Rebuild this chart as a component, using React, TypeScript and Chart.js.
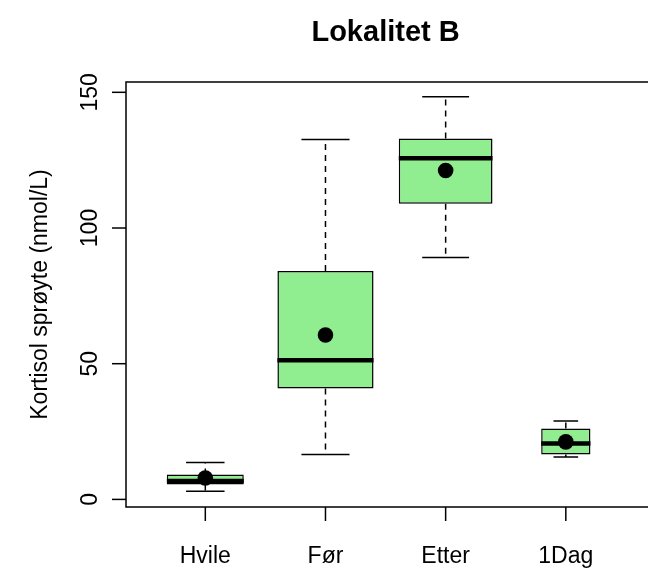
import React, { useEffect, useRef } from "react";
import { Chart, registerables } from "chart.js";
Chart.register(...registerables);

const categories = ["Hvile", "Før", "Etter", "1Dag"];
const positions = [1, 2, 3, 4];
const whiskerLow = [3.0, 16.5, 89.1, 15.6];
const q1 = [5.5, 40.9, 108.9, 16.5];
const medians = [6.8, 51.3, 125.7, 20.6];
const q3 = [9.2, 84.2, 133.0, 26.1];
const whiskerHigh = [13.6, 132.6, 148.4, 28.9];
const means = [7.9, 60.6, 121.2, 21.2];
const yTicks = [0, 50, 100, 150];
const titleText = "Lokalitet B";
const yTitleText = "Kortisol sprøyte (nmol/L)";

// relative box widths (varwidth style)
const boxWidths = [0.64, 0.8, 0.78, 0.41];

const FONT = '"Liberation Sans", Arial, Helvetica, sans-serif';

export default function App() {
  const ref = useRef<HTMLCanvasElement>(null);

  useEffect(() => {
    const canvas = ref.current!;
    const boxDatasets: any[] = categories.map((c, i) => ({
      type: "bar",
      label: c,
      data: [{ x: positions[i], y: [q1[i], q3[i]] }],
      backgroundColor: "#90EE90",
      borderColor: "#000000",
      borderWidth: 1.5,
      borderSkipped: false,
      grouped: false,
      barPercentage: boxWidths[i],
      categoryPercentage: 1,
      order: 1,
    }));
    const meanDataset: any = {
      type: "scatter",
      label: "mean",
      data: positions.map((p, i) => ({ x: p, y: means[i] })),
      backgroundColor: "#000000",
      borderColor: "#000000",
      pointRadius: 7.8,
      pointBorderWidth: 0,
      pointHoverRadius: 7.8,
      showLine: false,
      order: 0,
    };

    const boxParts = {
      id: "boxParts",
      afterDatasetDraw(chart: any, args: any) {
        const i = args.index;
        if (i >= categories.length) return;
        const ctx = chart.ctx;
        const xs = chart.scales.x;
        const ys = chart.scales.y;
        const cx = xs.getPixelForValue(positions[i]);
        const unit = xs.getPixelForValue(2) - xs.getPixelForValue(1);
        const half = (boxWidths[i] * unit) / 2;
        const capHalf = half / 2;
        ctx.save();
        ctx.strokeStyle = "#000000";
        ctx.lineWidth = 1.5;
        ctx.setLineDash([6, 5]);
        ctx.beginPath();
        ctx.moveTo(cx, ys.getPixelForValue(q3[i]));
        ctx.lineTo(cx, ys.getPixelForValue(whiskerHigh[i]));
        ctx.moveTo(cx, ys.getPixelForValue(q1[i]));
        ctx.lineTo(cx, ys.getPixelForValue(whiskerLow[i]));
        ctx.stroke();
        ctx.setLineDash([]);
        ctx.beginPath();
        const yh = ys.getPixelForValue(whiskerHigh[i]);
        const yl = ys.getPixelForValue(whiskerLow[i]);
        ctx.moveTo(cx - capHalf, yh);
        ctx.lineTo(cx + capHalf, yh);
        ctx.moveTo(cx - capHalf, yl);
        ctx.lineTo(cx + capHalf, yl);
        ctx.stroke();
        ctx.lineWidth = 4.5;
        ctx.lineCap = "butt";
        const ym = ys.getPixelForValue(medians[i]);
        ctx.beginPath();
        ctx.moveTo(cx - half, ym);
        ctx.lineTo(cx + half, ym);
        ctx.stroke();
        ctx.restore();
      },
      afterDraw(chart: any) {
        const ctx = chart.ctx;
        const { left, right, top, bottom } = chart.chartArea;
        const xs = chart.scales.x;
        const ys = chart.scales.y;
        const plotRight = xs.getPixelForValue(4.66);
        ctx.save();
        ctx.strokeStyle = "#000000";
        ctx.fillStyle = "#000000";
        ctx.lineWidth = 1.5;
        ctx.beginPath();
        ctx.moveTo(right + 10, top);
        ctx.lineTo(left, top);
        ctx.lineTo(left, bottom);
        ctx.lineTo(right + 10, bottom);
        ctx.stroke();
        // y ticks
        ctx.font = `23px ${FONT}`;
        ctx.textAlign = "center";
        ctx.textBaseline = "alphabetic";
        yTicks.forEach((v) => {
          const y = ys.getPixelForValue(v);
          ctx.beginPath();
          ctx.moveTo(left, y);
          ctx.lineTo(left - 14, y);
          ctx.stroke();
          ctx.save();
          ctx.translate(97, y);
          ctx.rotate(-Math.PI / 2);
          ctx.fillText(String(v), 0, 0);
          ctx.restore();
        });
        // x ticks
        categories.forEach((c, i) => {
          const x = xs.getPixelForValue(positions[i]);
          ctx.beginPath();
          ctx.moveTo(x, bottom);
          ctx.lineTo(x, bottom + 14);
          ctx.stroke();
          ctx.fillText(c, x, 563);
        });
        // y title
        ctx.save();
        ctx.translate(47, (top + bottom) / 2);
        ctx.rotate(-Math.PI / 2);
        ctx.fillText(yTitleText, 0, 0);
        ctx.restore();
        // main title, centred on the full plot region
        ctx.font = `bold 29px ${FONT}`;
        ctx.fillText(titleText, (left + plotRight) / 2, 41);
        ctx.restore();
      },
    };

    const chart = new Chart(canvas, {
      type: "bar",
      data: { datasets: [...boxDatasets, meanDataset] },
      options: {
        responsive: false,
        animation: false,
        events: [],
        layout: { padding: { left: 126, right: 0, top: 82, bottom: 62 } },
        plugins: {
          legend: { display: false },
          tooltip: { enabled: false },
          title: { display: false },
        },
        scales: {
          x: {
            type: "linear",
            min: 0.34,
            max: 4.619,
            offset: false,
            display: false,
            afterBuildTicks: (scale: any) => {
              scale.ticks = positions.map((v) => ({ value: v }));
            },
          },
          y: {
            type: "linear",
            min: -2.8,
            max: 153.8,
            display: false,
            afterBuildTicks: (scale: any) => {
              scale.ticks = yTicks.map((v) => ({ value: v }));
            },
          },
        },
      } as any,
      plugins: [boxParts],
    });
    return () => chart.destroy();
  }, []);

  return (
    <div
      style={{
        position: "fixed",
        left: 0,
        top: 0,
        width: 648,
        height: 569,
        overflow: "hidden",
        background: "#ffffff",
      }}
    >
      <canvas ref={ref} width={648} height={569} style={{ display: "block" }} />
    </div>
  );
}
